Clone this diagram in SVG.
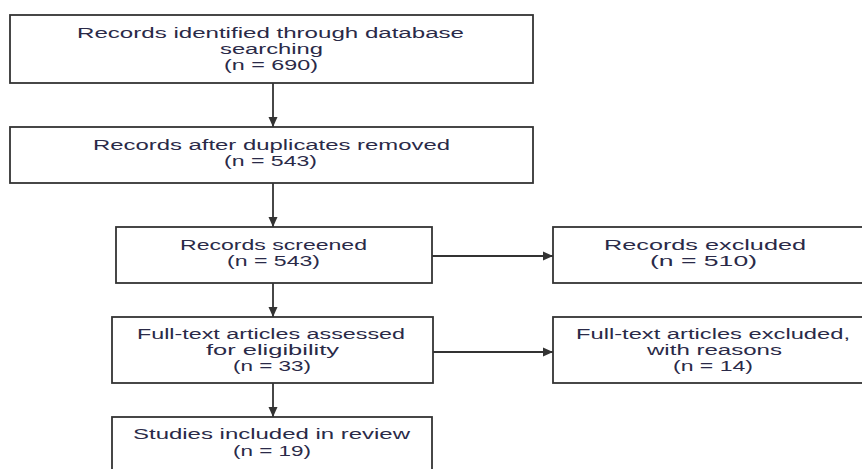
<svg xmlns="http://www.w3.org/2000/svg" width="862" height="469" viewBox="0 0 862 469">
<defs>
<style>
.box{fill:#fff;stroke:#333;stroke-width:1.8}
.t{font-family:"Liberation Sans","Open Sans",sans-serif;font-size:13.8px;fill:#2a2a48}
.c{stroke:#333;stroke-width:1.8;fill:none}
</style>
<marker id="ah" markerWidth="12" markerHeight="12" refX="10" refY="5" orient="auto" markerUnits="userSpaceOnUse">
<path d="M0,0.5 L10,5 L0,9.5 Z" fill="#333"/>
</marker>
</defs>
<rect width="862" height="469" fill="#fff"/>
<g id="connectors">
<line class="c" x1="273" y1="83" x2="273" y2="127" marker-end="url(#ah)"/>
<line class="c" x1="273" y1="183" x2="273" y2="227" marker-end="url(#ah)"/>
<line class="c" x1="273" y1="283" x2="273" y2="317" marker-end="url(#ah)"/>
<line class="c" x1="273" y1="383" x2="273" y2="417" marker-end="url(#ah)"/>
<line class="c" x1="432" y1="256" x2="553" y2="256" marker-end="url(#ah)"/>
<line class="c" x1="433" y1="352" x2="553" y2="352" marker-end="url(#ah)"/>
</g>
<g id="identified">
<rect class="box" x="10" y="15" width="523" height="68"/>
<text class="t" x="77" y="38" textLength="387" lengthAdjust="spacingAndGlyphs">Records identified through database</text>
<text class="t" x="220" y="54" textLength="103" lengthAdjust="spacingAndGlyphs">searching</text>
<text class="t" x="224" y="70" textLength="94" lengthAdjust="spacingAndGlyphs">(n = 690)</text>
</g>
<g id="duplicates">
<rect class="box" x="10" y="127" width="523" height="56"/>
<text class="t" x="93" y="150" textLength="357" lengthAdjust="spacingAndGlyphs">Records after duplicates removed</text>
<text class="t" x="224" y="166" textLength="93" lengthAdjust="spacingAndGlyphs">(n = 543)</text>
</g>
<g id="screened">
<rect class="box" x="116" y="227" width="316" height="56"/>
<text class="t" x="180" y="250" textLength="187" lengthAdjust="spacingAndGlyphs">Records screened</text>
<text class="t" x="227" y="266" textLength="93" lengthAdjust="spacingAndGlyphs">(n = 543)</text>
</g>
<g id="excluded">
<rect class="box" x="553" y="227" width="320" height="56"/>
<text class="t" x="604" y="250" textLength="202" lengthAdjust="spacingAndGlyphs">Records excluded</text>
<text class="t" x="650" y="266" textLength="107" lengthAdjust="spacingAndGlyphs">(n = 510)</text>
</g>
<g id="assessed">
<rect class="box" x="112" y="317" width="321" height="66"/>
<text class="t" x="137" y="339" textLength="268" lengthAdjust="spacingAndGlyphs">Full-text articles assessed</text>
<text class="t" x="206" y="355" textLength="133" lengthAdjust="spacingAndGlyphs">for eligibility</text>
<text class="t" x="233" y="371" textLength="78" lengthAdjust="spacingAndGlyphs">(n = 33)</text>
</g>
<g id="ftexcluded">
<rect class="box" x="553" y="317" width="320" height="66"/>
<text class="t" x="576" y="339" textLength="274" lengthAdjust="spacingAndGlyphs">Full-text articles excluded,</text>
<text class="t" x="647" y="355" textLength="135" lengthAdjust="spacingAndGlyphs">with reasons</text>
<text class="t" x="673" y="371" textLength="80" lengthAdjust="spacingAndGlyphs">(n = 14)</text>
</g>
<g id="included">
<rect class="box" x="112" y="417" width="320" height="70"/>
<text class="t" x="133" y="439" textLength="277" lengthAdjust="spacingAndGlyphs">Studies included in review</text>
<text class="t" x="233" y="456" textLength="78" lengthAdjust="spacingAndGlyphs">(n = 19)</text>
</g>
</svg>
